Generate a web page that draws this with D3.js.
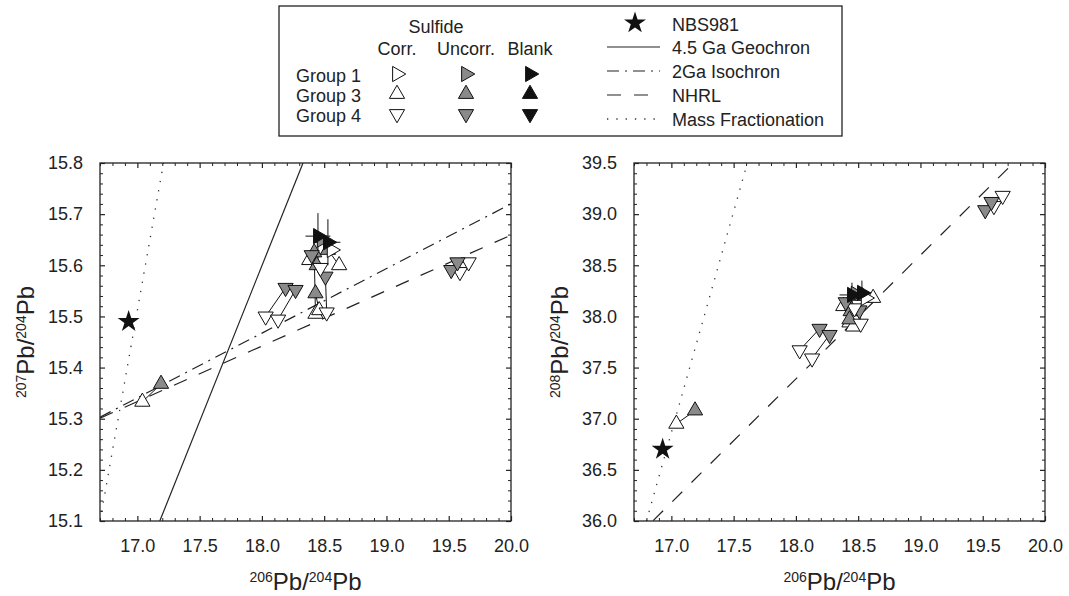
<!DOCTYPE html>
<html>
<head>
<meta charset="utf-8">
<script src="https://cdn.jsdelivr.net/npm/d3@7"></script>
<style>
  body { margin: 0; background: #fff; }
  text { font-family: "Liberation Sans", Arial, Helvetica, sans-serif; fill: #222; }
  .tick text { font-size: 18px; }
</style>
</head>
<body>
<svg id="chart" width="1069" height="596"></svg>
<script>
// ---- data ----
// one entry per plotted triangle
const ptGroup = ["G3","G3","G3","G3","G3","G3","G3","G3","G3","G3",
                 "G4","G4","G4","G4","G4","G4","G4","G4","G4","G4","G4","G4",
                 "G1","G1","G1","G1"]
const ptKind  = ["corr","uncorr","corr","uncorr","corr","uncorr","corr","uncorr","corr","uncorr",
                 "corr","uncorr","corr","uncorr","corr","uncorr","corr","uncorr","corr","uncorr","corr","uncorr",
                 "corr","uncorr","blank","blank"]
const pb206 = [17.04, 17.19, 18.43, 18.42, 18.38, 18.44, 18.62, 18.53, 18.46, 18.43,
               18.03, 18.19, 18.13, 18.27, 18.52, 18.51, 19.59, 19.52, 19.66, 19.57, 18.47, 18.40,
               18.56, 18.48, 18.45, 18.53]
const pb207 = [15.333, 15.368, 15.505, 15.625, 15.610, 15.600, 15.600, 15.630, 15.512, 15.545,
               15.500, 15.556, 15.494, 15.552, 15.508, 15.578, 15.587, 15.591, 15.606, 15.606, 15.595, 15.620,
               15.630, 15.650, 15.657, 15.645]
const pb208 = [36.95, 37.08, 37.94, 38.12, 38.10, 38.05, 38.18, 38.20, 37.90, 37.97,
               37.67, 37.88, 37.59, 37.82, 37.93, 38.06, 39.08, 39.04, 39.18, 39.12, 38.08, 38.14,
               38.18, 38.22, 38.21, 38.23]
// corrected <-> uncorrected tie lines (indices)
const pairs = [[0,1],[2,3],[4,5],[6,7],[8,9],[10,11],[12,13],[14,15],[16,17],[18,19],[20,21],[22,23]]
// blank error bars
const errX = 0.10, err207 = 0.045, err208 = 0.12

// NBS981 standard
const nbs206 = [16.93]
const nbs207 = [15.49]
const nbs208 = [36.70]

// reference lines, end points in data units
const geochron207 = [[17.18, 15.10], [18.33, 15.80]]
const iso2ga207   = [[16.70, 15.303], [20.00, 15.720]]
const nhrl207     = [[16.70, 15.301], [20.00, 15.659]]
const massfr207   = [[16.70, 15.10], [17.21, 15.80]]
const nhrl208     = [[16.70, 35.818], [20.00, 39.807]]
const massfr208   = [[16.80, 36.00], [17.61, 39.50]]

// ticks
const xMajor = [17.0, 17.5, 18.0, 18.5, 19.0, 19.5, 20.0]
const y207Major = [15.1, 15.2, 15.3, 15.4, 15.5, 15.6, 15.7, 15.8]
const y208Major = [36.0, 36.5, 37.0, 37.5, 38.0, 38.5, 39.0, 39.5]

// legend
const legendCols = ["Corr.", "Uncorr.", "Blank"]
const legendRows = ["Group 1", "Group 3", "Group 4"]
const legendLines = ["4.5 Ga Geochron", "2Ga Isochron", "NHRL", "Mass Fractionation"]

// ---- styles ----
const fills = {corr: "#fff", uncorr: "#8a8a8a", blank: "#111"}
const rot = {G1: 90, G3: 0, G4: 180}
const dashes = {solid: null, dashdot: "12,6,2,6", dashed: "14,13", dotted: "1.3,8"}
const ink = "#222"

const svg = d3.select("#chart")
const tri = d3.symbol().type(d3.symbolTriangle).size(100)()
const star = d3.symbol().type(d3.symbolStar).size(150)()

const yTop = 163, yBot = 521

function refLine(g, x, y, pts, dash) {
  g.append("line")
    .attr("x1", x(pts[0][0])).attr("y1", y(pts[0][1]))
    .attr("x2", x(pts[1][0])).attr("y2", y(pts[1][1]))
    .attr("stroke", dash == "dotted" ? "#333" : ink)
    .attr("stroke-width", dash == "dotted" ? 1.3 : 1.2)
    .attr("stroke-dasharray", dashes[dash])
}

function drawPanel(p) {
  const x = d3.scaleLinear().domain([16.7, 20.0]).range([p.left, p.right])
  const y = d3.scaleLinear().domain(p.yDomain).range([yBot, yTop])
  const g = svg.append("g")

  g.append("clipPath").attr("id", p.id).append("rect")
    .attr("x", p.left).attr("y", yTop).attr("width", p.right - p.left).attr("height", yBot - yTop)
  const plot = g.append("g").attr("clip-path", `url(#${p.id})`)

  p.lines.forEach(l => refLine(plot, x, y, l[0], l[1]))

  // tie lines
  pairs.forEach(([a, b]) => {
    plot.append("line")
      .attr("x1", x(pb206[a])).attr("y1", y(p.yv[a]))
      .attr("x2", x(pb206[b])).attr("y2", y(p.yv[b]))
      .attr("stroke", "#111").attr("stroke-width", 1)
  })

  const idx = d3.range(pb206.length)
  const order = idx.filter(i => ptKind[i] != "blank").concat(idx.filter(i => ptKind[i] == "blank"))

  // blank error bars
  idx.filter(i => ptKind[i] == "blank").forEach(i => {
    plot.append("line")
      .attr("x1", x(pb206[i] - errX)).attr("x2", x(pb206[i] + errX))
      .attr("y1", y(p.yv[i])).attr("y2", y(p.yv[i]))
      .attr("stroke", "#111").attr("stroke-width", 1)
    plot.append("line")
      .attr("x1", x(pb206[i])).attr("x2", x(pb206[i]))
      .attr("y1", y(p.yv[i] - p.err)).attr("y2", y(p.yv[i] + p.err))
      .attr("stroke", "#111").attr("stroke-width", 1)
  })

  plot.selectAll("path.pt").data(order).enter().append("path")
    .attr("class", "pt")
    .attr("d", tri)
    .attr("transform", i => `translate(${x(pb206[i])},${y(p.yv[i])}) rotate(${rot[ptGroup[i]]})`)
    .attr("fill", i => fills[ptKind[i]])
    .attr("stroke", "#111").attr("stroke-width", 1)

  plot.selectAll("path.std").data(nbs206).enter().append("path")
    .attr("class", "std")
    .attr("d", star)
    .attr("transform", (d, i) => `translate(${x(d)},${y(p.nbs[i])})`)
    .attr("fill", "#111")

  // axes, ticks pointing inward on all sides
  const xMinor = d3.range(16.7, 20.001, 0.1).map(v => +v.toFixed(1)).filter(v => !xMajor.includes(v))
  const yMinor = d3.range(p.yDomain[0], p.yDomain[1] + 1e-6, p.yMinorStep).map(v => +v.toFixed(2))
    .filter(v => !p.yMajor.some(m => Math.abs(m - v) < 1e-6))

  const axes = [
    [d3.axisBottom(x).tickValues(xMajor).tickFormat(d3.format(".1f")).tickPadding(18), `translate(0,${yBot})`, xMinor, d3.axisBottom(x)],
    [d3.axisTop(x).tickValues(xMajor).tickFormat(""), `translate(0,${yTop})`, xMinor, d3.axisTop(x)],
    [d3.axisLeft(y).tickValues(p.yMajor).tickFormat(d3.format(".1f")).tickPadding(17), `translate(${p.left},0)`, yMinor, d3.axisLeft(y)],
    [d3.axisRight(y).tickValues(p.yMajor).tickFormat(""), `translate(${p.right},0)`, yMinor, d3.axisRight(y)]
  ]
  axes.forEach(([ax, tr, minor, minAx]) => {
    const a = g.append("g").attr("transform", tr)
      .call(ax.tickSize(-5).tickSizeOuter(0))
    a.select(".domain").remove()
    a.attr("font-family", null).attr("font-size", null)
    a.selectAll("line").attr("stroke", ink).attr("stroke-width", 1.2)
    const m = g.append("g").attr("transform", tr)
      .call(minAx.tickValues(minor).tickFormat("").tickSize(-3).tickSizeOuter(0))
    m.select(".domain").remove()
    m.selectAll("line").attr("stroke", ink).attr("stroke-width", 1)
  })

  g.append("rect")
    .attr("x", p.left).attr("y", yTop).attr("width", p.right - p.left).attr("height", yBot - yTop)
    .attr("fill", "none").attr("stroke", ink).attr("stroke-width", 1.3)

  // axis titles
  const xt = g.append("text").attr("x", (p.left + p.right) / 2).attr("y", 590).attr("text-anchor", "middle")
  isoTitle(xt, "206")
  const yt = g.append("text").attr("transform", `translate(${p.left - 66},${(yTop + yBot) / 2}) rotate(-90)`)
    .attr("text-anchor", "middle")
  isoTitle(yt, p.yIso)
}

function isoTitle(t, num) {
  t.append("tspan").attr("font-size", 14).attr("dy", -8).text(num)
  t.append("tspan").attr("font-size", 24).attr("dy", 8).text("Pb/")
  t.append("tspan").attr("font-size", 14).attr("dy", -8).text("204")
  t.append("tspan").attr("font-size", 24).attr("dy", 8).text("Pb")
}

drawPanel({
  id: "clipL", left: 100, right: 511, yDomain: [15.1, 15.8], yMajor: y207Major, yMinorStep: 0.02,
  yv: pb207, err: err207, nbs: nbs207, yIso: "207",
  lines: [[geochron207, "solid"], [iso2ga207, "dashdot"], [nhrl207, "dashed"], [massfr207, "dotted"]]
})
drawPanel({
  id: "clipR", left: 634, right: 1045, yDomain: [36.0, 39.5], yMajor: y208Major, yMinorStep: 0.1,
  yv: pb208, err: err208, nbs: nbs208, yIso: "208",
  lines: [[nhrl208, "dashed"], [massfr208, "dotted"]]
})

// ---- legend ----
const lg = svg.append("g")
lg.append("rect").attr("x", 279).attr("y", 6).attr("width", 563).attr("height", 130)
  .attr("fill", "#fff").attr("stroke", ink).attr("stroke-width", 1.3)
const colX = [397, 466, 530]
const rowY = [82, 102, 122]
lg.append("text").attr("x", 436).attr("y", 33).attr("text-anchor", "middle").attr("font-size", 18).text("Sulfide")
legendCols.forEach((c, i) => lg.append("text").attr("x", colX[i]).attr("y", 55)
  .attr("text-anchor", "middle").attr("font-size", 18).text(c))
legendRows.forEach((r, j) => {
  lg.append("text").attr("x", 296).attr("y", rowY[j]).attr("font-size", 18).text(r)
  const grp = ["G1", "G3", "G4"][j]
  ;["corr", "uncorr", "blank"].forEach((k, i) => {
    lg.append("path").attr("d", tri)
      .attr("transform", `translate(${colX[i]},${rowY[j] - 8}) rotate(${rot[grp]})`)
      .attr("fill", fills[k]).attr("stroke", "#111").attr("stroke-width", 1)
  })
})
lg.append("path").attr("d", star).attr("transform", "translate(635,23)").attr("fill", "#111")
lg.append("text").attr("x", 672).attr("y", 31).attr("font-size", 18).text("NBS981")
const lineY = [54, 78, 102, 126]
const lineDash = ["solid", "dashdot", "dashed", "dotted"]
legendLines.forEach((name, i) => {
  lg.append("line").attr("x1", 607).attr("x2", 660).attr("y1", lineY[i] - 7).attr("y2", lineY[i] - 7)
    .attr("stroke", lineDash[i] == "dotted" ? "#333" : ink)
    .attr("stroke-width", lineDash[i] == "dotted" ? 1.3 : 1.2)
    .attr("stroke-dasharray", dashes[lineDash[i]])
  lg.append("text").attr("x", 672).attr("y", lineY[i]).attr("font-size", 18).text(name)
})
</script>
</body>
</html>
